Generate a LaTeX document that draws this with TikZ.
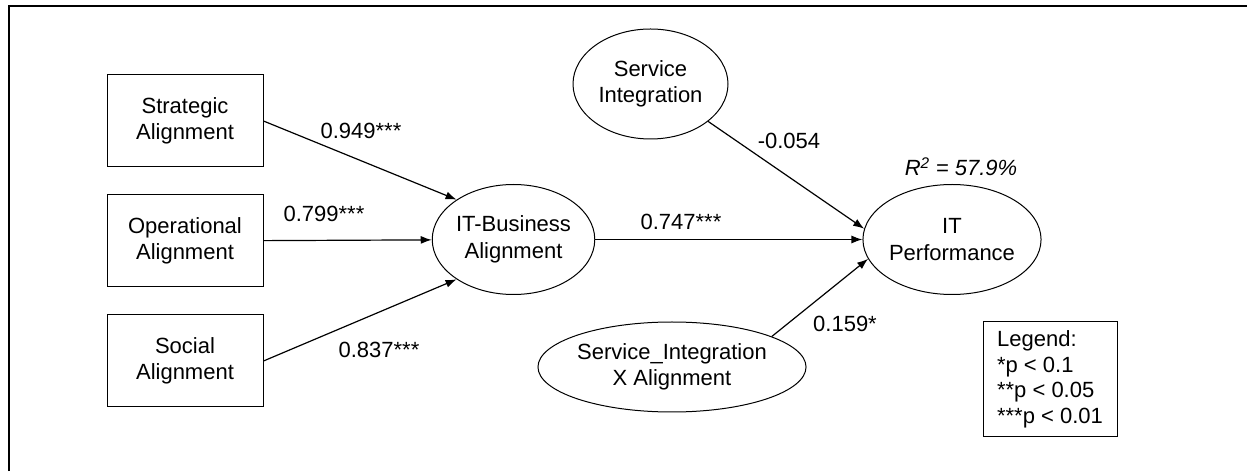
\documentclass[tikz,border=0pt]{standalone}
\usepackage{fontspec}
\setmainfont{Liberation Sans}
\usetikzlibrary{positioning, shapes.geometric, arrows.meta}
\begin{document}
\begin{tikzpicture}[x=1pt, y=1pt, node distance={27pt}, line width=1pt,
    font=\fontsize{22}{26.5}\selectfont,
    box/.style = {draw, rectangle, minimum width=156pt, minimum height=92pt, align=center, inner sep=0pt},
    latent/.style = {draw, ellipse, minimum width=155pt, minimum height=110pt, align=center, inner sep=0pt},
    lbl/.style = {anchor=base, inner sep=0pt},
    arr/.style = {-{Latex[length=11pt, width=8pt]}, line width=1.2pt}]
  \useasboundingbox (0,0) rectangle (1247,471);
  \draw[line width=2pt] (9,0) -- (9,465) -- (1247,465);
  % measurement items and constructs
  \node[box] (strat) at (185,350) {Strategic\\Alignment};
  \node[box] (oper) [below=of strat] {Operational\\Alignment};
  \node[box] (soc) [below=of oper] {Social\\Alignment};
  \node[latent] (itb) at (513.5,231.5) {IT-Business\\Alignment};
  \node[latent] (si) at (650.5,387) {Service\\Integration};
  \node[latent, minimum width=236pt, minimum height=90pt] (sixa) at (672,104) {Service\_Integration\\X Alignment};
  \node[latent, minimum width=156pt] (itp) at (952,231.5) {IT\\Performance};
  \node[draw, align=left, minimum width=134pt, minimum height=115pt, inner sep=0pt,
        font=\fontsize{22}{25.5}\selectfont] (legend) at (1050,91.5) {Legend:\\*p < 0.1\\**p < 0.05\\***p < 0.01};
  % paths
  \draw[arr] (strat.east) -- (itb.145);
  \draw[arr] (oper) -- (itb);
  \draw[arr] (soc.east) -- (itb.215);
  \draw[arr] (itb) -- (itp);
  \draw[arr] (si.327) -- (itp.173);
  \draw[arr] (sixa.17) -- (itp.193);
  % coefficients
  \node[lbl] (c1) at (361,332) {0.949***};
  \node[lbl] (c2) at (324,249) {0.799***};
  \node[lbl] (c3) at (379,113) {0.837***};
  \node[lbl] (c4) at (681,241) {0.747***};
  \node[lbl] (c5) at (789,322) {-0.054};
  \node[lbl] (c6) at (845,139) {0.159*};
  \node[lbl] (r2) at (961,295) {\itshape R\textsuperscript{2} = 57.9\%};
\end{tikzpicture}
\end{document}
